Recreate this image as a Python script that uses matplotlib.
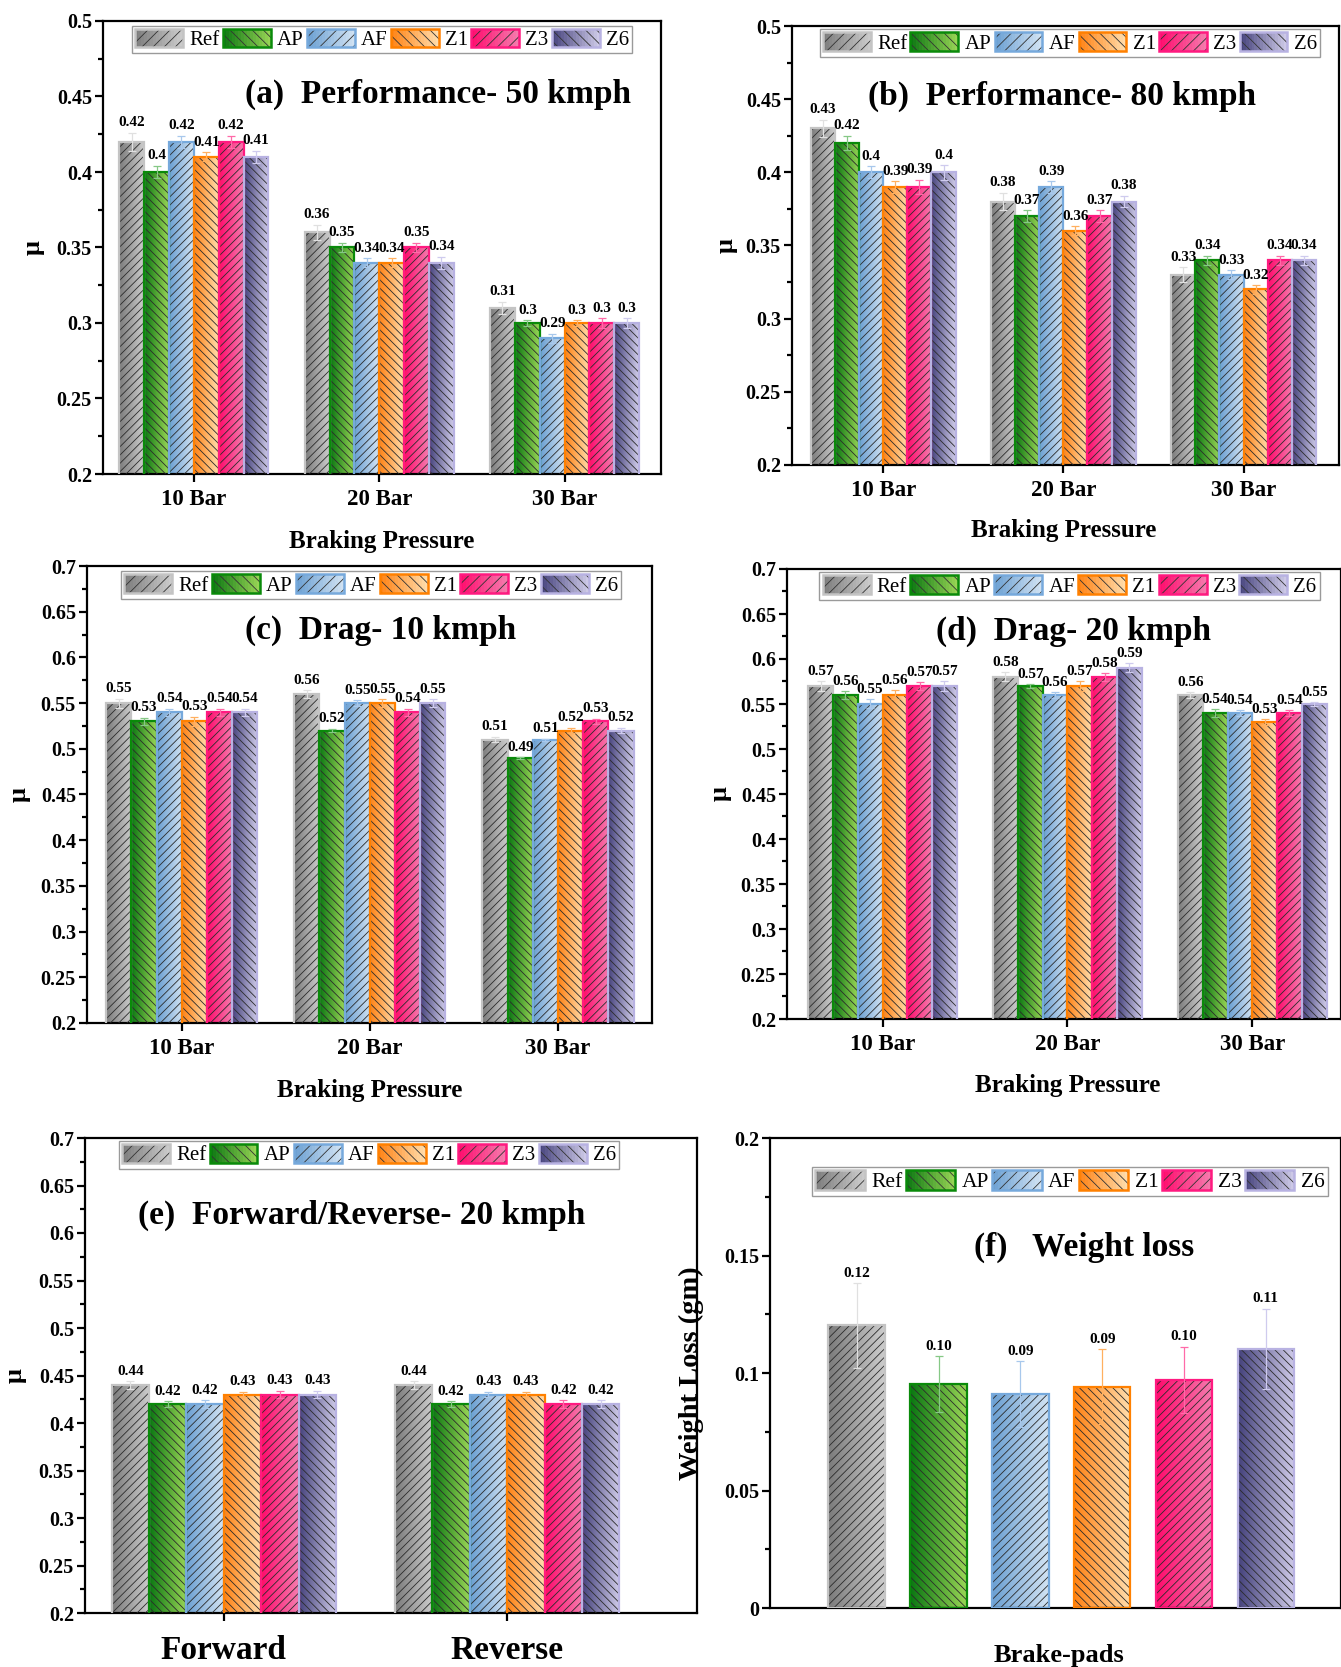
import numpy as np
import matplotlib
matplotlib.use('Agg')
import matplotlib.pyplot as plt
from matplotlib.patches import Rectangle, Patch
from matplotlib.colors import LinearSegmentedColormap
from matplotlib.legend_handler import HandlerBase
from matplotlib.ticker import MultipleLocator, FuncFormatter

plt.rcParams['font.family'] = ['Liberation Serif', 'DejaVu Serif']
plt.rcParams['font.weight'] = 'bold'
plt.rcParams['hatch.linewidth'] = 0.6

# series
pads = ['Ref', 'AP', 'AF', 'Z1', 'Z3', 'Z6']
dark = ['#7b7b7b', '#0a7612', '#6a9fd2', '#ff8214', '#ff0a6c', '#45427c']
light = ['#cccccc', '#9ad656', '#d2e3f3', '#ffdeae', '#f57cae', '#d0cce9']
edges = ['#c4c4c4', '#0a8a0a', '#76a9dc', '#ff8000', '#ff1a80', '#b8b2e2']
errcol = ['#e0e0e0', '#86c886', '#a8c8ec', '#ffb060', '#ff6aa8', '#cfcbee']
hatches = ['////', '\\\\\\\\', '////', '\\\\\\\\', '////', '\\\\\\\\']

pressures = ['10 Bar', '20 Bar', '30 Bar']
directions = ['Forward', 'Reverse']

# (a) performance 50 kmph
perf50 = [[0.42, 0.40, 0.42, 0.41, 0.42, 0.41],
          [0.36, 0.35, 0.34, 0.34, 0.35, 0.34],
          [0.31, 0.30, 0.29, 0.30, 0.30, 0.30]]
perf50_err = [[0.006, 0.004, 0.004, 0.003, 0.004, 0.004],
              [0.005, 0.003, 0.003, 0.003, 0.003, 0.004],
              [0.004, 0.002, 0.003, 0.002, 0.003, 0.003]]
# (b) performance 80 kmph
perf80 = [[0.43, 0.42, 0.40, 0.39, 0.39, 0.40],
          [0.38, 0.37, 0.39, 0.36, 0.37, 0.38],
          [0.33, 0.34, 0.33, 0.32, 0.34, 0.34]]
perf80_err = [[0.006, 0.005, 0.004, 0.004, 0.005, 0.005],
              [0.006, 0.004, 0.004, 0.003, 0.004, 0.004],
              [0.005, 0.003, 0.003, 0.003, 0.003, 0.003]]
# (c) drag 10 kmph
drag10 = [[0.55, 0.53, 0.54, 0.53, 0.54, 0.54],
          [0.56, 0.52, 0.55, 0.55, 0.54, 0.55],
          [0.51, 0.49, 0.51, 0.52, 0.53, 0.52]]
drag10_err = [[0.005, 0.004, 0.004, 0.005, 0.004, 0.004],
              [0.004, 0.002, 0.003, 0.004, 0.004, 0.004],
              [0.003, 0.001, 0.001, 0.003, 0.003, 0.003]]
# (d) drag 20 kmph
drag20 = [[0.57, 0.56, 0.55, 0.56, 0.57, 0.57],
          [0.58, 0.57, 0.56, 0.57, 0.58, 0.59],
          [0.56, 0.54, 0.54, 0.53, 0.54, 0.55]]
drag20_err = [[0.005, 0.004, 0.005, 0.005, 0.004, 0.005],
              [0.005, 0.002, 0.003, 0.005, 0.004, 0.005],
              [0.003, 0.004, 0.003, 0.003, 0.003, 0.002]]
# (e) forward / reverse 20 kmph
fwdrev = [[0.44, 0.42, 0.42, 0.43, 0.43, 0.43],
          [0.44, 0.42, 0.43, 0.43, 0.42, 0.42]]
fwdrev_err = [[0.004, 0.003, 0.004, 0.003, 0.004, 0.004],
              [0.004, 0.003, 0.003, 0.003, 0.004, 0.004]]
# (f) weight loss
wloss = [0.1203, 0.0952, 0.0911, 0.0941, 0.0971, 0.1103]
wloss_err = [0.018, 0.012, 0.014, 0.016, 0.014, 0.017]

W, H = 1341, 1667
fig = plt.figure(figsize=(W / 100, H / 100), dpi=100)


def px_axes(l, r, t, b):
    return fig.add_axes([l / W, 1 - b / H, (r - l) / W, (b - t) / H])


grad = np.linspace(0, 1, 64).reshape(1, -1)
cmaps = [LinearSegmentedColormap.from_list(p, [d, li]) for p, d, li in zip(pads, dark, light)]


class GradHandler(HandlerBase):
    def __init__(self, i):
        super().__init__()
        self.i = i

    def create_artists(self, legend, orig_handle, xd, yd, width, height, fontsize, trans):
        i = self.i
        arts = []
        n = 16
        for k in range(n):
            arts.append(Rectangle((-xd + k * width / n, -yd), width / n + 0.3, height,
                                  facecolor=cmaps[i]((k + 0.5) / n), lw=0, transform=trans))
        arts.append(Rectangle((-xd, -yd), width, height, facecolor='none', edgecolor='#333333',
                              hatch=hatches[i][:3], lw=0, transform=trans))
        arts.append(Rectangle((-xd, -yd), width, height, fill=False, edgecolor=edges[i],
                              lw=1.8, transform=trans))
        return arts


def draw_bars(ax, xs, vals, errs, width, i, fmt, lab_fs):
    bars = ax.bar(xs, vals, width, color='none', edgecolor='#2b2b2b', hatch=hatches[i],
                  lw=0, zorder=3)
    for p in bars:
        x0, w, h = p.get_x(), p.get_width(), p.get_height()
        ax.imshow(grad, cmap=cmaps[i], extent=(x0, x0 + w, 0, h), aspect='auto',
                  zorder=2, interpolation='bilinear')
    ax.bar(xs, vals, width, fill=False, edgecolor=edges[i], lw=1.6, zorder=4)
    ax.errorbar(xs, vals, yerr=errs, fmt='none', ecolor=errcol[i], elinewidth=0.9,
                capsize=3, capthick=0.9, zorder=5)
    for x, v, e in zip(xs, vals, errs):
        ax.annotate(fmt(v), (x, v + e), xytext=(0, 2.5), textcoords='offset points',
                    ha='center', va='bottom', fontsize=lab_fs, fontweight='bold', zorder=6)


def style(ax, xlim, ylim, step):
    ax.set_xlim(*xlim)
    ax.set_ylim(*ylim)
    ax.yaxis.set_major_locator(MultipleLocator(step))
    ax.yaxis.set_minor_locator(MultipleLocator(step / 2))
    ax.yaxis.set_major_formatter(FuncFormatter(lambda v, p: f"{round(v, 3):g}"))
    ax.tick_params(axis='y', which='major', direction='out', length=6, width=1.6,
                   labelsize=14.5, pad=2)
    ax.tick_params(axis='y', which='minor', direction='out', length=3.5, width=1.6)
    ax.tick_params(axis='x', direction='out', length=6, width=1.6, labelsize=16.5, pad=5)
    for s in ax.spines.values():
        s.set_linewidth(1.6)


def add_legend(ax, anchor, fs=15):
    handles = [Patch(label=p) for p in pads]
    hmap = {h: GradHandler(i) for i, h in enumerate(handles)}
    leg = ax.legend(handles=handles, handler_map=hmap, loc='upper center',
                    bbox_to_anchor=anchor, ncol=6, prop={'size': fs, 'weight': 'normal'},
                    frameon=True, fancybox=False, edgecolor='#9a9a9a', framealpha=1,
                    handlelength=2.3, handleheight=1.0, handletextpad=0.3,
                    columnspacing=0.15, borderpad=0.15, borderaxespad=0)
    leg.get_frame().set_linewidth(1.0)
    leg.set_zorder(10)


def group_panel(box, data, errs, cats, xlim, ylim, title, tpos, lpos, ylab_x,
                xlab_pos=None, width=0.134, xtick_fs=16.5, xtick_pad=5):
    ax = px_axes(*box)
    data = np.array(data)
    errs = np.array(errs)
    xg = np.arange(len(cats))
    for i in range(len(pads)):
        draw_bars(ax, xg + (i - 2.5) * width, data[:, i], errs[:, i], width, i,
                  lambda v: f"{v:g}", 11)
    style(ax, xlim, ylim, 0.05)
    ax.set_xticks(xg)
    ax.set_xticklabels(cats)
    ax.tick_params(axis='x', labelsize=xtick_fs, pad=xtick_pad)
    ax.set_ylabel('μ', fontsize=19, fontweight='bold')
    ax.yaxis.set_label_coords(ylab_x, 0.5)
    if xlab_pos is not None:
        ax.set_xlabel('Braking Pressure', fontsize=18, fontweight='bold')
        ax.xaxis.set_label_coords(*xlab_pos)
    ax.text(tpos[0], tpos[1], title, transform=ax.transAxes, ha='center', va='center',
            fontsize=24, fontweight='bold', zorder=7)
    add_legend(ax, lpos)
    return ax


group_panel((103, 661, 21, 474), perf50, perf50_err, pressures, (-0.49, 2.52), (0.2, 0.5),
            '(a)  Performance- 50 kmph', (0.60, 0.839), (0.5, 0.99), -0.105, (0.5, -0.124))
group_panel((792, 1339, 26, 465), perf80, perf80_err, pressures, (-0.506, 2.53), (0.2, 0.5),
            '(b)  Performance- 80 kmph', (0.494, 0.84), (0.508, 0.993), -0.10, (0.496, -0.123))
group_panel((87, 652, 566, 1023), drag10, drag10_err, pressures, (-0.504, 2.50), (0.2, 0.7),
            '(c)  Drag- 10 kmph', (0.52, 0.86), (0.503, 0.989), -0.10, (0.5, -0.123))
group_panel((787, 1341, 569, 1019), drag20, drag20_err, pressures, (-0.517, 2.48), (0.2, 0.7),
            '(d)  Drag- 20 kmph', (0.518, 0.862), (0.51, 0.993), -0.10, (0.507, -0.122))
group_panel((85, 697, 1138, 1613), fwdrev, fwdrev_err, directions, (-0.49, 1.67), (0.2, 0.7),
            '(e)  Forward/Reverse- 20 kmph', (0.452, 0.838), (0.464, 0.994), -0.095,
            None, width=0.132, xtick_fs=24, xtick_pad=10)

# (f) weight loss
axf = px_axes(770, 1341, 1138, 1608)
xf = np.arange(len(pads))
for i in range(len(pads)):
    draw_bars(axf, xf[i:i + 1], wloss[i:i + 1], wloss_err[i:i + 1], 0.69, i,
              lambda v: f"{v:.2f}", 11)
style(axf, (-1.06, 5.92), (0, 0.2), 0.05)
axf.set_xticks([])
axf.set_ylabel('Weight Loss (gm)', fontsize=20.5, fontweight='bold')
axf.yaxis.set_label_coords(-0.115, 0.5)
axf.set_xlabel('Brake-pads', fontsize=19, fontweight='bold')
axf.xaxis.set_label_coords(0.506, -0.077)
axf.text(0.55, 0.768, '(f)   Weight loss', transform=axf.transAxes, ha='center', va='center',
         fontsize=24, fontweight='bold', zorder=7)
add_legend(axf, (0.525, 0.938), fs=15.5)

fig.savefig('out.png', dpi=100)
